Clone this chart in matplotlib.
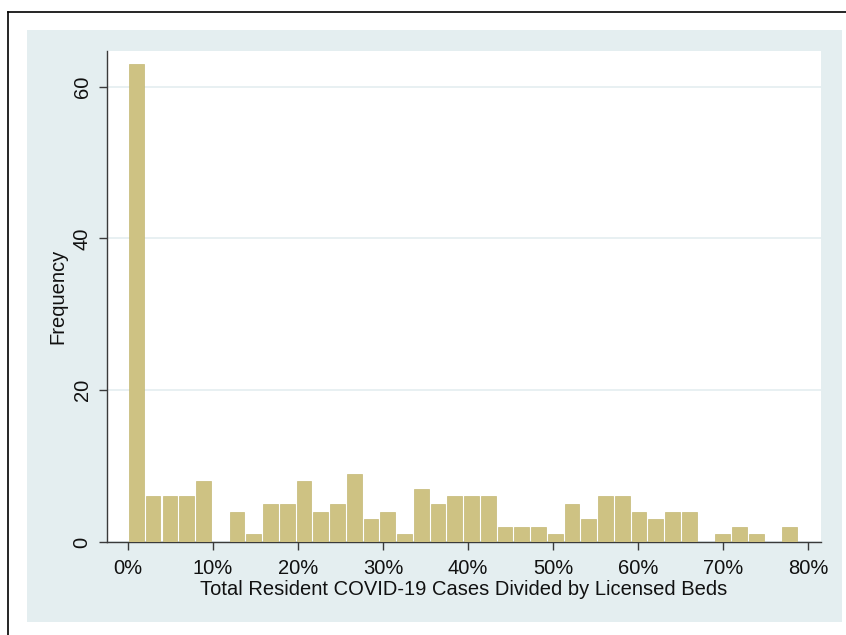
import numpy as np
import matplotlib.pyplot as plt
from matplotlib.patches import Rectangle
from matplotlib.lines import Line2D
from matplotlib.ticker import FuncFormatter

# histogram of cases per licensed bed: 40 equal bins
bin_width = 0.0197
counts = [63, 6, 6, 6, 8, 0, 4, 1, 5, 5,
          8, 4, 5, 9, 3, 4, 1, 7, 5, 6,
          6, 6, 2, 2, 2, 1, 5, 3, 6, 6,
          4, 3, 4, 4, 0, 1, 2, 1, 0, 2]
x_ticks = [0.0, 0.1, 0.2, 0.3, 0.4, 0.5, 0.6, 0.7, 0.8]
y_ticks = [0, 20, 40, 60]
x_title = "Total Resident COVID-19 Cases Divided by Licensed Beds"
y_title = "Frequency"

PANEL = "#E4EEF0"
BAR = "#CEC283"
AXIS = "#3A3A3A"
FS = 14.5

W, H = 846, 635
plt.rcParams["font.family"] = ["Liberation Sans", "DejaVu Sans"]
fig = plt.figure(figsize=(W / 100, H / 100), dpi=100)


def frac_box(x0, y0, x1, y1):
    # pixel box (top-left origin) -> figure fraction [left, bottom, width, height]
    return [x0 / W, 1 - y1 / H, (x1 - x0) / W, (y1 - y0) / H]


# light graph region behind the plot
l, b, w, h = frac_box(27, 30, 842, 622)
fig.patches.append(Rectangle((l, b), w, h, transform=fig.transFigure,
                             facecolor=PANEL, edgecolor="none", zorder=-10))
# thin black frame on the left and top
fig.lines.append(Line2D([8 / W, 8 / W], [0, 1 - 12 / H], transform=fig.transFigure,
                        color="black", linewidth=1.2, zorder=-5))
fig.lines.append(Line2D([8 / W, 1], [1 - 12 / H, 1 - 12 / H], transform=fig.transFigure,
                        color="black", linewidth=1.2, zorder=-5))

ax = fig.add_axes(frac_box(107, 51, 821, 542))
ax.set_facecolor("white")

edges = np.arange(len(counts) + 1) * bin_width
centers = (edges[:-1] + edges[1:]) / 2
ax.bar(centers, counts, width=bin_width * 0.88, color=BAR,
       edgecolor="#C4B874", linewidth=0.5, zorder=3)

ax.set_xlim(-0.0247, 0.815)
ax.set_ylim(0, 64.7)

ax.set_yticks(y_ticks)
ax.set_xticks(x_ticks)
ax.xaxis.set_major_formatter(FuncFormatter(lambda v, _: f"{v * 100:.0f}%"))
ax.yaxis.grid(True, color=PANEL, linewidth=1.2, zorder=0)
ax.set_axisbelow(True)

for side in ("top", "right"):
    ax.spines[side].set_visible(False)
for side in ("left", "bottom"):
    ax.spines[side].set_color(AXIS)
    ax.spines[side].set_linewidth(1.0)

ax.tick_params(axis="both", direction="out", length=6, width=1.0,
               color=AXIS, labelsize=FS, labelcolor="#111111")
ax.tick_params(axis="x", pad=6)
ax.tick_params(axis="y", pad=5)
for lab in ax.get_yticklabels():
    lab.set_rotation(90)
    lab.set_va("center")

ax.set_xlabel(x_title, fontsize=FS, color="#111111", labelpad=2)
ax.set_ylabel(y_title, fontsize=FS, color="#111111", labelpad=4)

fig.savefig("out.png", dpi=100)
